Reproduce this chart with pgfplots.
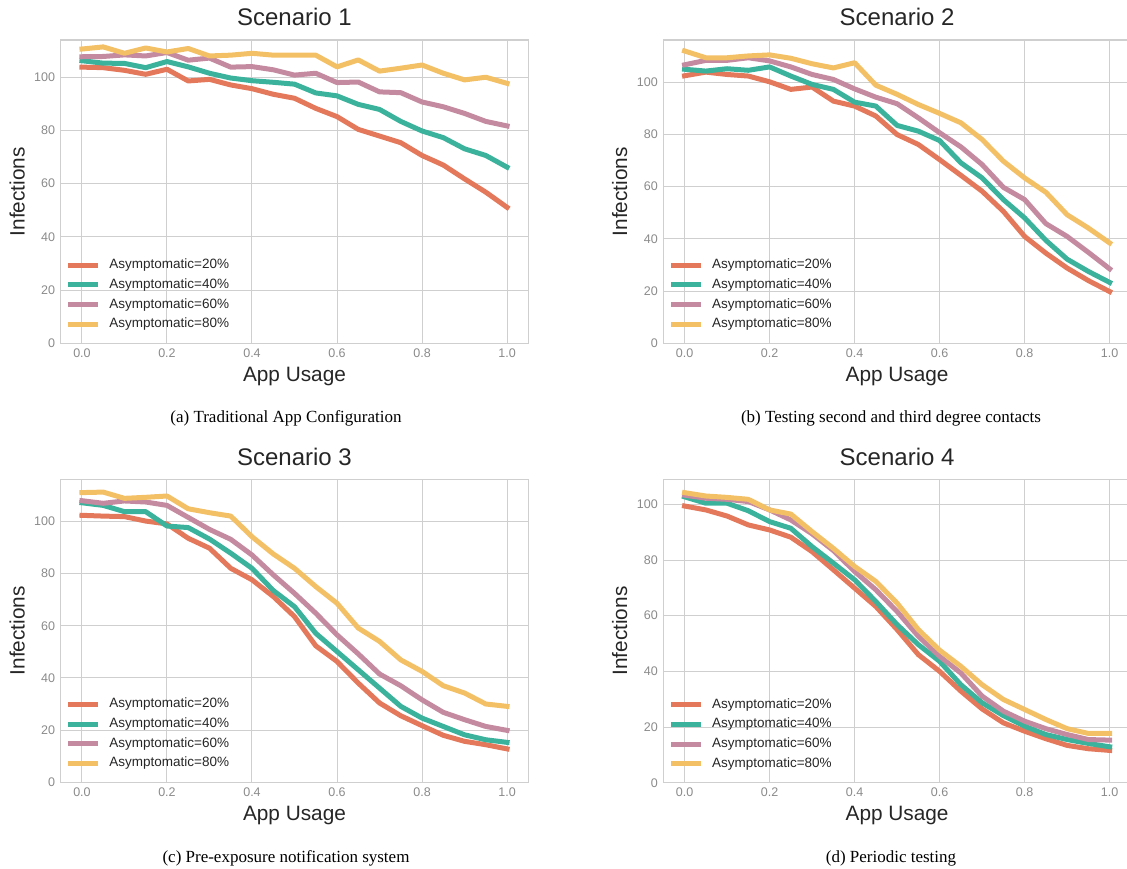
\documentclass[border=0pt]{standalone}
\usepackage{fontspec}
\setmainfont{Liberation Sans}
\newfontfamily\capserif{Liberation Serif}
\usepackage{pgfplots}
\usepackage{pgfplotstable}
\pgfplotsset{compat=1.18}

\definecolor{cA}{HTML}{E4785A}
\definecolor{cB}{HTML}{3BB39C}
\definecolor{cC}{HTML}{C48A9F}
\definecolor{cD}{HTML}{F4C065}
\definecolor{gridc}{HTML}{CFCFCF}
\definecolor{tickc}{HTML}{8A8A8A}
\definecolor{textc}{HTML}{262626}

\pgfplotstableread{
x a b c d
0.00 103.8 106.2 107.7 110.6
0.05 103.6 105.3 107.8 111.4
0.10 102.6 105.2 108.4 109.0
0.15 101.1 103.6 108.0 111.0
0.20 103.0 105.9 109.3 109.5
0.25 98.6 103.9 106.4 110.8
0.30 99.2 101.5 107.2 108.0
0.35 97.1 99.7 103.8 108.3
0.40 95.7 98.7 104.0 109.0
0.45 93.6 98.1 102.8 108.3
0.50 92.1 97.4 100.8 108.3
0.55 88.3 94.1 101.5 108.3
0.60 85.2 93.0 98.0 103.9
0.65 80.4 89.8 98.2 106.5
0.70 77.9 87.9 94.5 102.3
0.75 75.4 83.4 94.2 103.4
0.80 70.6 79.8 90.7 104.6
0.85 67.0 77.3 88.9 101.5
0.90 61.8 73.1 86.4 99.0
0.95 56.8 70.6 83.4 100.0
1.00 51.1 66.2 81.7 97.7
}\tabA

\pgfplotstableread{
x a b c d
0.00 102.4 104.9 106.6 111.9
0.05 103.8 104.2 108.3 109.3
0.10 102.9 105.1 108.3 109.3
0.15 102.3 104.5 109.3 110.0
0.20 100.1 105.8 108.1 110.4
0.25 97.2 102.3 105.8 109.1
0.30 98.1 99.1 102.9 107.0
0.35 92.7 97.2 101.0 105.4
0.40 90.8 92.3 97.4 107.4
0.45 87.0 90.8 94.2 98.8
0.50 79.9 83.4 91.7 95.3
0.55 76.1 81.2 86.3 91.4
0.60 70.3 77.6 80.6 88.0
0.65 64.3 69.1 75.2 84.4
0.70 58.2 63.3 68.4 78.0
0.75 50.5 55.0 59.7 69.7
0.80 40.9 48.0 55.0 63.3
0.85 34.5 39.4 45.8 57.8
0.90 28.8 32.2 40.9 49.2
0.95 24.0 27.5 34.8 44.1
1.00 19.8 23.3 28.5 38.4
}\tabB

\pgfplotstableread{
x a b c d
0.00 102.3 107.1 107.9 111.0
0.05 102.0 106.1 106.9 111.2
0.10 101.8 103.7 107.8 108.8
0.15 100.1 103.7 107.4 109.2
0.20 99.0 98.2 106.1 109.7
0.25 93.5 97.6 101.5 104.8
0.30 89.7 93.2 96.9 103.3
0.35 82.0 87.8 93.1 102.0
0.40 77.6 82.0 87.1 94.1
0.45 71.2 73.5 79.5 87.5
0.50 63.5 67.3 72.4 82.0
0.55 52.3 57.1 64.8 75.0
0.60 46.3 50.1 56.5 68.6
0.65 38.0 43.1 49.2 59.1
0.70 30.4 36.1 41.5 54.0
0.75 25.5 29.1 37.0 46.9
0.80 21.7 24.6 31.6 42.5
0.85 18.0 21.4 26.8 37.0
0.90 15.7 18.2 24.0 34.2
0.95 14.4 16.3 21.4 30.0
1.00 12.8 15.3 19.9 29.1
}\tabC

\pgfplotstableread{
x a b c d
0.00 99.4 102.7 103.3 104.2
0.05 98.0 100.4 102.2 103.0
0.10 95.8 100.4 101.8 102.5
0.15 92.6 97.7 101.0 101.8
0.20 90.8 93.8 98.0 98.0
0.25 88.2 91.4 94.4 96.5
0.30 83.0 84.8 89.4 90.2
0.35 76.5 78.9 83.4 84.2
0.40 69.9 72.9 75.9 77.7
0.45 63.3 65.1 69.3 72.3
0.50 55.0 56.8 61.5 64.5
0.55 46.0 49.6 52.6 55.0
0.60 40.0 43.6 45.4 47.6
0.65 32.9 35.2 39.4 41.8
0.70 26.5 28.7 31.1 35.2
0.75 21.5 24.1 25.7 29.9
0.80 18.5 20.3 22.1 26.3
0.85 15.8 17.3 19.4 22.7
0.90 13.4 15.5 17.3 19.4
0.95 12.2 14.1 15.5 17.7
1.00 11.6 12.9 15.3 17.7
}\tabD

\pgfplotsset{
  panel/.style={
    scale only axis, anchor=south west,
    width=467.6pt,
    xmin=-0.05, xmax=1.05, ymin=0,
    xtick={0,0.2,0.4,0.6,0.8,1},
    xticklabels={0.0,0.2,0.4,0.6,0.8,1.0},
    ytick={0,20,40,60,80,100},
    grid=major,
    major grid style={line width=1pt, color=gridc},
    axis line style={line width=1.2pt, color=gridc},
    major tick length=0pt, tick style={draw=none},
    /pgf/number format/assume math mode=true,
    ticklabel style={font=\fontsize{12.5}{14}\selectfont, color=tickc},
    xticklabel style={anchor=base, inner sep=0pt, yshift=-14pt},
    yticklabel style={anchor=east, inner sep=0pt, xshift=-5.4pt},
    title style={at={(0.5,1)}, anchor=base, inner sep=0pt, yshift=8pt,
      font=\fontsize{24}{28}\selectfont, color=textc},
    xlabel style={at={(axis description cs:0.5,0)}, anchor=base, inner sep=0pt,
      yshift=-38pt, font=\fontsize{20.8}{24}\selectfont, color=textc},
    ylabel style={at={(axis description cs:-0.0765,0.5)}, anchor=south, inner sep=0pt,
      font=\fontsize{20.8}{24}\selectfont, color=textc},
    xlabel={App Usage}, ylabel={Infections},
    every axis plot/.append style={line width=5pt, line join=round, line cap=rect},
    legend cell align=left,
    legend image code/.code={\draw[#1, line cap=butt] (0pt,0pt) -- (30pt,0pt);},
    legend style={at={(axis description cs:0,0)}, anchor=south west,
      xshift=5pt, yshift=12.2pt, draw=none, fill=none, inner sep=0pt,
      row sep=6.7pt, column sep=8.5pt,
      font=\fontsize{13.5}{15}\selectfont, text=textc,
      nodes={inner sep=0pt, text height=10pt, text depth=3pt}},
  }
}

\newcommand{\fourlines}[1]{%
  \addplot[cA] table[x=x,y=a] {#1};
  \addplot[cB] table[x=x,y=b] {#1};
  \addplot[cC] table[x=x,y=c] {#1};
  \addplot[cD] table[x=x,y=d] {#1};
  \legend{Asymptomatic=20\%,Asymptomatic=40\%,Asymptomatic=60\%,Asymptomatic=80\%}
}

\begin{document}
\begin{tikzpicture}
\useasboundingbox (0,0) rectangle (1127pt,868pt);
\clip (0,0) rectangle (1127pt,868pt);

\begin{axis}[panel, at={(60.7pt,524.7pt)}, height=303.3pt, ymax=114.0, title={Scenario 1}]
\fourlines{\tabA}
\end{axis}

\begin{axis}[panel, at={(663.3pt,524.7pt)}, height=303.3pt, ymax=116.1, title={Scenario 2}]
\fourlines{\tabB}
\end{axis}

\begin{axis}[panel, at={(60.7pt,85.7pt)}, height=303pt, ymax=116.1, title={Scenario 3}]
\fourlines{\tabC}
\end{axis}

\begin{axis}[panel, at={(663.3pt,85.3pt)}, height=303.4pt, ymax=109.0, title={Scenario 4}]
\fourlines{\tabD}
\end{axis}

\node[font=\capserif\fontsize{17}{20}\selectfont, anchor=base] at (286pt,445.5pt) {(a) Traditional App Configuration};
\node[font=\capserif\fontsize{17}{20}\selectfont, anchor=base] at (891pt,445.5pt) {(b) Testing second and third degree contacts};
\node[font=\capserif\fontsize{17}{20}\selectfont, anchor=base] at (286pt,5.5pt) {(c) Pre-exposure notification system};
\node[font=\capserif\fontsize{17}{20}\selectfont, anchor=base] at (891pt,5.5pt) {(d) Periodic testing};
\end{tikzpicture}
\end{document}
